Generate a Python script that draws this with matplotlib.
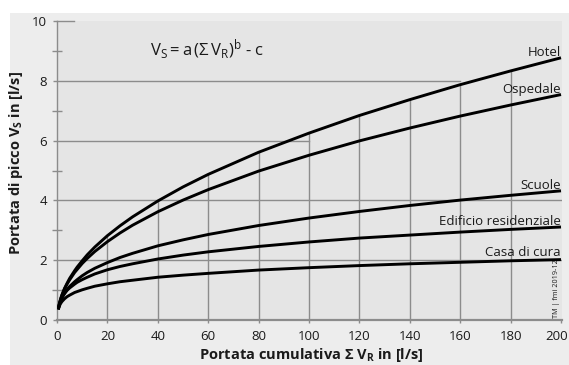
import numpy as np
import matplotlib
matplotlib.use("Agg")
import matplotlib.pyplot as plt
from matplotlib.patches import Rectangle
from matplotlib.transforms import ScaledTranslation

plt.rcParams['font.family'] = ['Open Sans', 'DejaVu Sans']
plt.rcParams['mathtext.fontset'] = 'custom'
plt.rcParams['mathtext.rm'] = 'Open Sans'
plt.rcParams['mathtext.it'] = 'Open Sans:italic'
plt.rcParams['mathtext.bf'] = 'Open Sans:bold'
plt.rcParams['mathtext.default'] = 'regular'

# cumulative flow [l/s] and peak flow [l/s]
flow = [0.5, 1, 1.5, 2, 3, 4, 5, 7, 8, 10, 12, 15, 20, 25, 30, 40, 50, 60, 80, 100,
        120, 140, 160, 180, 200]
hotel = [0.37, 0.57, 0.72, 0.85, 1.06, 1.23, 1.39, 1.65, 1.77, 1.98, 2.18, 2.44, 2.82,
         3.15, 3.45, 3.98, 4.45, 4.87, 5.61, 6.25, 6.84, 7.37, 7.87, 8.33, 8.77]
ospedale = [0.37, 0.57, 0.72, 0.84, 1.04, 1.20, 1.34, 1.59, 1.69, 1.89, 2.06, 2.29, 2.62,
            2.91, 3.17, 3.62, 4.01, 4.36, 4.98, 5.51, 5.99, 6.42, 6.82, 7.19, 7.54]
scuole = [0.35, 0.53, 0.65, 0.75, 0.90, 1.02, 1.12, 1.28, 1.35, 1.48, 1.59, 1.73, 1.92,
          2.09, 2.23, 2.48, 2.68, 2.86, 3.16, 3.41, 3.63, 3.83, 4.01, 4.17, 4.32]
residenziale = [0.36, 0.54, 0.66, 0.75, 0.88, 0.99, 1.07, 1.20, 1.26, 1.35, 1.43, 1.54, 1.68,
                1.79, 1.88, 2.04, 2.17, 2.28, 2.46, 2.61, 2.74, 2.84, 2.94, 3.03, 3.11]
casa_cura = [0.35, 0.48, 0.56, 0.62, 0.71, 0.78, 0.83, 0.92, 0.95, 1.01, 1.06, 1.13, 1.21,
             1.28, 1.33, 1.43, 1.50, 1.56, 1.67, 1.75, 1.82, 1.88, 1.93, 1.98, 2.02]
names = ["Hotel", "Ospedale", "Scuole", "Edificio residenziale", "Casa di cura"]
series = [hotel, ospedale, scuole, residenziale, casa_cura]
xticks = [0, 20, 40, 60, 80, 100, 120, 140, 160, 180, 200]
yticks = [0, 2, 4, 6, 8, 10]

txt = '#1a1a1a'
grid = '#8c8c8c'

fig = plt.figure(figsize=(5.69, 3.65), dpi=100)
fig.patch.set_facecolor('white')
fig.patches.append(Rectangle((10 / 569, 0), 1, 352 / 365, transform=fig.transFigure,
                             facecolor='#ededed', edgecolor='none', zorder=-10))

ax = fig.add_axes([57 / 569, 45 / 365, 505 / 569, 299 / 365])
ax.set_facecolor('#e5e5e5')
ax.set_xlim(0, 200.4)
ax.set_ylim(0, 10)

# grid only under the top curve
for xv in xticks[1:-1]:
    top = hotel[flow.index(xv)]
    ax.plot([xv, xv], [0, top], color=grid, lw=1.0, zorder=1)
for yv, xend in [(2, 200.4), (4, 200.4), (6, 100), (8, 160)]:
    ax.plot([0, xend], [yv, yv], color=grid, lw=1.0, zorder=1)
ax.plot([0, 6.7], [10, 10], color=grid, lw=1.0, clip_on=False, zorder=1)

for name, vals in zip(names, series):
    ax.plot(flow, vals, color='black', lw=2.1, solid_capstyle='butt',
            solid_joinstyle='round', zorder=3)
    off = 0.12 if name == "Casa di cura" else 0.06
    ax.text(200, vals[-1] + off, name, ha='right', va='baseline', fontsize=9.5, color=txt, zorder=4)

for s in ['top', 'right']:
    ax.spines[s].set_visible(False)
ax.spines['left'].set_color(grid)
ax.spines['left'].set_linewidth(1.0)
ax.spines['bottom'].set_color(grid)
ax.spines['bottom'].set_linewidth(1.6)

ax.set_xticks(xticks)
ax.set_yticks(yticks)
ax.set_yticks([1, 3, 5, 7, 9], minor=True)
ax.tick_params(axis='x', direction='out', length=2.5, width=1.0, color=grid, pad=5,
               labelsize=9.5, labelcolor=txt)
ax.tick_params(axis='y', which='major', direction='out', length=3, width=1.0, color=grid, pad=4,
               labelsize=9.5, labelcolor=txt)
ax.tick_params(axis='y', which='minor', direction='inout', length=7.5, width=1.0, color=grid)

# keep the last x label inside the picture
last = ax.get_xticklabels()[-1]
last.set_transform(last.get_transform() + ScaledTranslation(-4 / 100, 0, fig.dpi_scale_trans))

ax.text(36.9, 8.83, r'$V_S = a\,(\Sigma\, V_R)^b$ - c', fontsize=12, color=txt, va='baseline')

fig.text(0.028, 0.553, r'Portata di picco $\mathbf{V_S}$ in [l/s]', rotation=90, ha='center',
         va='center', fontsize=10.5, fontweight='bold', color=txt)
fig.text(0.547, 0.016, r'Portata cumulativa Σ $\mathbf{V_R}$ in [l/s]', ha='center',
         va='baseline', fontsize=10.5, fontweight='bold', color=txt)

ax.text(198.3, 0.08, 'TM | fmi 2019-12', rotation=90, ha='center', va='bottom', fontsize=5.2,
        color=txt, zorder=2)

fig.savefig('out.png', dpi=100, facecolor=fig.get_facecolor())
